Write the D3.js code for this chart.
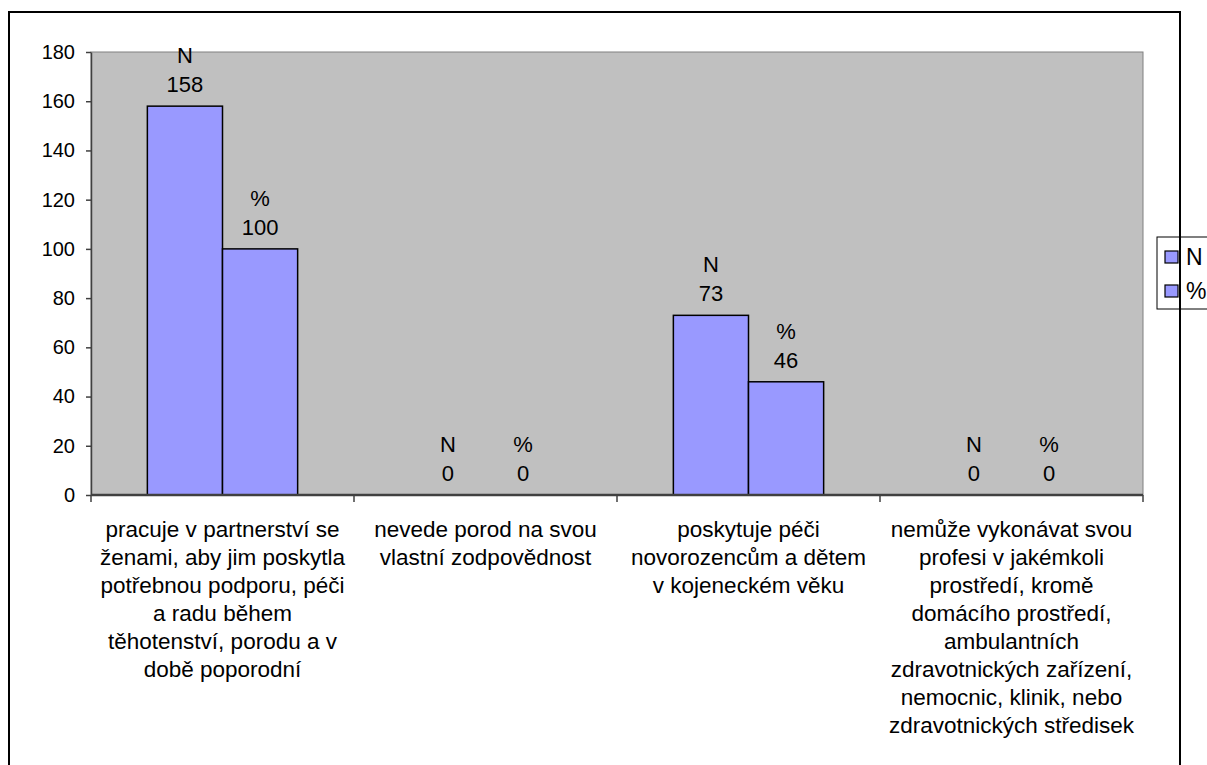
<!DOCTYPE html>
<html>
<head>
<meta charset="utf-8">
<script src="https://cdn.jsdelivr.net/npm/d3@7"></script>
<style>
  html, body { margin: 0; padding: 0; background: #fff; }
  svg { display: block; }
  text { font-family: Arial, "Liberation Sans", sans-serif; fill: #000; }
</style>
</head>
<body>
<svg id="chart" width="1207" height="765"></svg>
<script>
// ---- data ----
const categories = [
  ["pracuje v partnerství se", "ženami, aby jim poskytla", "potřebnou podporu, péči", "a radu během", "těhotenství, porodu a v", "době poporodní"],
  ["nevede porod na svou", "vlastní zodpovědnost"],
  ["poskytuje péči", "novorozencům a dětem", "v kojeneckém věku"],
  ["nemůže vykonávat svou", "profesi v jakémkoli", "prostředí, kromě", "domácího prostředí,", "ambulantních", "zdravotnických zařízení,", "nemocnic, klinik, nebo", "zdravotnických středisek"]
];
const seriesNames = ["N", "%"];
const valuesN = [158, 0, 73, 0];
const valuesPct = [100, 0, 46, 0];
const yTicks = [0, 20, 40, 60, 80, 100, 120, 140, 160, 180];

// ---- layout ----
const svg = d3.select("#chart");
const plot = { left: 91, right: 1143, top: 52, bottom: 495 };
const barColor = "#9999FF";

// outer white background
svg.append("rect").attr("x", 0).attr("y", 0).attr("width", 1207).attr("height", 765).attr("fill", "#fff");

const x0 = d3.scaleBand().domain(d3.range(categories.length)).range([plot.left, plot.right]).padding(0);
const x1 = d3.scaleBand().domain(seriesNames).range([0, x0.bandwidth()]).paddingInner(0).paddingOuter(0.75);
const y = d3.scaleLinear().domain([0, 180]).range([plot.bottom, plot.top]);

// plot area
svg.append("rect")
  .attr("x", plot.left).attr("y", plot.top)
  .attr("width", plot.right - plot.left).attr("height", plot.bottom - plot.top)
  .attr("fill", "#C0C0C0").attr("stroke", "#808080").attr("stroke-width", 1);

// bars
const rows = categories.map((c, i) => ({ i, vals: [valuesN[i], valuesPct[i]] }));
const groups = svg.append("g").selectAll("g").data(rows).join("g")
  .attr("transform", d => `translate(${x0(d.i)},0)`);

groups.selectAll("rect").data(d => d.vals.map((v, k) => ({ key: seriesNames[k], v })))
  .join("rect")
  .filter(d => d.v > 0)
  .attr("x", d => x1(d.key))
  .attr("y", d => y(d.v))
  .attr("width", x1.bandwidth())
  .attr("height", d => y(0) - y(d.v))
  .attr("fill", barColor)
  .attr("stroke", "#000")
  .attr("stroke-width", 1.5);

// data labels
const lab = groups.selectAll("g.lab").data(d => d.vals.map((v, k) => ({ key: seriesNames[k], v })))
  .join("g").attr("class", "lab")
  .attr("transform", d => `translate(${x1(d.key) + x1.bandwidth() / 2},${y(d.v) - 14})`);
lab.append("text").attr("text-anchor", "middle").attr("font-size", 22).text(d => d.v);
lab.append("text").attr("text-anchor", "middle").attr("font-size", 22).attr("y", -29).text(d => d.key);

// y axis
const yAxis = svg.append("g").attr("transform", `translate(${plot.left},0)`)
  .call(d3.axisLeft(y).tickValues(yTicks).tickSize(5).tickPadding(11).tickSizeOuter(0));
yAxis.select(".domain").attr("stroke", "#404040").attr("stroke-width", 1.5);
yAxis.selectAll(".tick line").attr("stroke", "#404040").attr("stroke-width", 1.5);
yAxis.selectAll(".tick text").attr("font-size", 20).attr("font-family", "Arial, 'Liberation Sans', sans-serif").attr("fill", "#000");

// x axis
const xAxisG = svg.append("g").attr("transform", `translate(0,${plot.bottom})`);
xAxisG.append("line").attr("x1", plot.left).attr("x2", plot.right).attr("y1", 0).attr("y2", 0)
  .attr("stroke", "#404040").attr("stroke-width", 2.5);
const bounds = d3.range(categories.length + 1).map(i => i < categories.length ? x0(i) : plot.right);
xAxisG.selectAll("line.tk").data(bounds).join("line").attr("class", "tk")
  .attr("x1", d => d).attr("x2", d => d).attr("y1", 0).attr("y2", 7)
  .attr("stroke", "#404040").attr("stroke-width", 1.5);

// category labels
const catG = svg.append("g").selectAll("text").data(categories).join("text")
  .attr("text-anchor", "middle").attr("font-size", 22.5)
  .attr("transform", (d, i) => `translate(${x0(i) + x0.bandwidth() / 2},${537})`);
catG.selectAll("tspan").data(d => d).join("tspan")
  .attr("x", 0).attr("y", (d, k) => k * 28).text(d => d);

// legend
const leg = svg.append("g");
leg.append("rect").attr("x", 1157).attr("y", 237).attr("width", 100).attr("height", 72)
  .attr("fill", "#fff").attr("stroke", "#000").attr("stroke-width", 1);
const legItems = leg.selectAll("g.li").data(seriesNames).join("g").attr("class", "li")
  .attr("transform", (d, i) => `translate(1165,${251 + i * 34})`);
legItems.append("rect").attr("width", 13).attr("height", 12).attr("fill", barColor).attr("stroke", "#000").attr("stroke-width", 1.2);
legItems.append("text").attr("x", 21).attr("y", 14).attr("font-size", 23).text(d => d);

// chart border
svg.append("rect").attr("x", 9).attr("y", 12).attr("width", 1171).attr("height", 800)
  .attr("fill", "none").attr("stroke", "#000").attr("stroke-width", 2);
</script>
</body>
</html>
